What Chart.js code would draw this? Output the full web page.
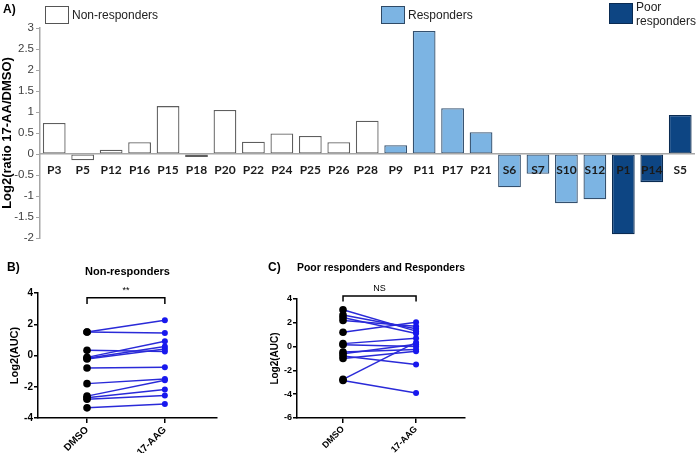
<!DOCTYPE html>
<html>
<head>
<meta charset="utf-8">
<script src="https://cdn.jsdelivr.net/npm/chart.js@4.4.0/dist/chart.umd.min.js"></script>
<style>
  body { margin: 0; background: #fff; width: 696px; height: 453px; position: relative; overflow: hidden;
         font-family: "Liberation Sans", Arial, sans-serif; }
  canvas { position: absolute; }
  .txt { position: absolute; white-space: nowrap; color: #222; font-size: 12px; line-height: 14px; }
  .panel { font-weight: bold; color: #000; }
  .swatch { position: absolute; box-sizing: border-box; }
</style>
</head>
<body>
<canvas id="chartA" width="696" height="248" style="left:0;top:0"></canvas>
<canvas id="chartB" width="240" height="198" style="left:0;top:255px"></canvas>
<canvas id="chartC" width="218" height="198" style="left:262px;top:255px"></canvas>

<div class="txt panel" style="left:3px;top:2px">A)</div>
<div class="swatch" style="left:45px;top:6px;width:24px;height:18px;background:#fff;border:1px solid #555"></div>
<div class="txt" style="left:72px;top:8px">Non-responders</div>
<div class="swatch" style="left:381px;top:6px;width:24px;height:18px;background:#7cb4e3;border:1px solid #2f4a66"></div>
<div class="txt" style="left:408px;top:8px">Responders</div>
<div class="swatch" style="left:609px;top:3px;width:24px;height:21px;background:#0d4583;border:1px solid #0a2b52"></div>
<div class="txt" style="left:636px;top:0px">Poor<br>responders</div>
<div class="txt panel" style="left:7px;top:260px">B)</div>
<div class="txt panel" style="left:268px;top:260px">C)</div>

<script>
// Panel A: log2 ratio per patient, split by response group
const nonResponderLabels = ["P3", "P5", "P12", "P16", "P15", "P18", "P20", "P22", "P24", "P25", "P26", "P28"]
const nonResponderValues = [0.74, -0.15, 0.1, 0.28, 1.14, -0.07, 1.05, 0.29, 0.49, 0.43, 0.28, 0.79]
const responderLabels = ["P9", "P11", "P17", "P21", "S6", "S7", "S10", "S12"]
const responderValues = [0.21, 2.93, 1.09, 0.52, -0.79, -0.47, -1.17, -1.08]
const poorLabels = ["P1", "P14", "S5"]
const poorValues = [-1.91, -0.67, 0.93]

// Panels B and C: paired log2(AUC), DMSO vs 17-AAG
const treatments = ["DMSO", "17-AAG"]
const nonRespDmso = [1.5, 1.5, 0.33, -0.12, -0.17, -0.22, -0.8, -1.8, -2.6, -2.7, -2.8, -3.35]
const nonRespAag = [2.26, 1.44, 0.25, 0.91, 0.57, 0.42, -0.75, -1.51, -1.58, -2.18, -2.56, -3.11]
const respDmso = [3.1, 2.65, 2.45, 2.2, 1.2, 0.25, 0.15, -0.45, -0.6, -0.8, -1.0, -2.75, -2.85]
const respAag = [1.3, 1.5, 1.1, 1.7, 2.05, 0.7, 0.0, -0.25, 0.2, -1.5, -0.4, 0.35, -3.9]

// significance brackets (top level, foot level)
const bracketB = [3.7, 3.3]
const bracketC = [4.25, 3.8]

const GROUP_STYLE = {
  non: { fill: "#ffffff", border: "#5e5e5e" },
  resp: { fill: "#7cb4e3", border: "#34506e" },
  poor: { fill: "#0d4583", border: "#0a2b52" },
}
const LINE_BLUE = "#2a2ad8"
const POINT_BLUE = "#1818ee"

const bar = (arr, style, key) => arr.map(() => style[key])
const barLabels = [...nonResponderLabels, ...responderLabels, ...poorLabels]
const barValues = [...nonResponderValues, ...responderValues, ...poorValues]
const barFills = [
  ...bar(nonResponderLabels, GROUP_STYLE.non, "fill"),
  ...bar(responderLabels, GROUP_STYLE.resp, "fill"),
  ...bar(poorLabels, GROUP_STYLE.poor, "fill"),
]
const barBorders = [
  ...bar(nonResponderLabels, GROUP_STYLE.non, "border"),
  ...bar(responderLabels, GROUP_STYLE.resp, "border"),
  ...bar(poorLabels, GROUP_STYLE.poor, "border"),
]

new Chart(document.getElementById("chartA"), {
  type: "bar",
  data: {
    labels: barLabels,
    datasets: [{
      data: barValues,
      backgroundColor: barFills,
      borderColor: barBorders,
      borderWidth: 1.3,
      borderSkipped: false,
      categoryPercentage: 1,
      barPercentage: 0.8,
    }],
  },
  options: {
    responsive: false,
    animation: false,
    layout: { padding: { top: 28, bottom: 10, left: 0, right: 0 } },
    plugins: { legend: { display: false }, tooltip: { enabled: false } },
    scales: {
      x: {
        position: { y: 0 },
        grid: { display: false, drawTicks: false },
        border: { color: "#a6a6a6", width: 1.5, z: 1 },
        ticks: {
          z: 1, padding: 9, autoSkip: false, maxRotation: 0,
          color: "#1a1a1a", font: { family: "Lato", weight: "bold", size: 12 },
        },
        afterFit: (s) => { s.height = 0 },
      },
      y: {
        min: -2,
        max: 3,
        ticks: {
          stepSize: 0.5, padding: 2, color: "#404040",
          font: { family: "Liberation Sans", size: 11.5 },
          callback: (v) => String(v),
        },
        grid: { drawOnChartArea: false, tickLength: 4, color: "#a6a6a6" },
        border: { color: "#a6a6a6", width: 1.5 },
        title: {
          display: true, text: "Log2(ratio 17-AA/DMSO)", color: "#000",
          font: { family: "Liberation Sans", weight: "bold", size: 13 }, padding: { top: 0, bottom: 0 },
        },
        afterFit: (s) => { s.width = 40 },
      },
    },
  },
})

// draws the "**" / "NS" text above a bracket
const sigLabel = {
  id: "sigLabel",
  afterDatasetsDraw(chart, args, opts) {
    const { ctx, scales: { x, y } } = chart
    ctx.save()
    ctx.font = opts.font
    ctx.fillStyle = "#000"
    ctx.textAlign = "center"
    ctx.textBaseline = "bottom"
    ctx.fillText(opts.text, (x.getPixelForValue(0) + x.getPixelForValue(1)) / 2, y.getPixelForValue(opts.level) - 3)
    ctx.restore()
  },
}

function pairedChart(id, dmso, aag, bracket, sigText, cfg) {
  const pairs = dmso.map((d, i) => ({
    data: [{ x: 0, y: d }, { x: 1, y: aag[i] }],
    showLine: true,
    borderColor: LINE_BLUE,
    borderWidth: 1.5,
    pointRadius: [3.8, 3],
    pointBackgroundColor: ["#000", POINT_BLUE],
    pointBorderColor: ["#000", POINT_BLUE],
    pointBorderWidth: 0,
  }))
  const [top, foot] = bracket
  pairs.push({
    data: [{ x: 0, y: foot }, { x: 0, y: top }, { x: 1, y: top }, { x: 1, y: foot }],
    showLine: true,
    borderColor: "#000",
    borderWidth: 1.5,
    pointRadius: 0,
    clip: false,
  })

  return new Chart(document.getElementById(id), {
    type: "scatter",
    data: { datasets: pairs },
    plugins: [sigLabel],
    options: {
      responsive: false,
      animation: false,
      layout: { padding: { top: 0, left: 0, bottom: 0, right: cfg.padRight } },
      plugins: {
        legend: { display: false },
        tooltip: { enabled: false },
        title: {
          display: true, text: cfg.title, fullSize: false, color: "#000",
          font: { family: "Liberation Sans", weight: "bold", size: 11 },
          padding: { top: cfg.titleTop, bottom: cfg.titleBottom },
        },
        sigLabel: { text: sigText, level: top, font: "9px 'Liberation Sans'" },
      },
      scales: {
        x: {
          type: "linear",
          min: -0.63,
          max: 1.67,
          afterBuildTicks: (s) => { s.ticks = treatments.map((_, i) => ({ value: i })) },
          ticks: {
            callback: (v) => treatments[v],
            minRotation: 45, maxRotation: 45, padding: 1, color: "#000",
            font: { family: "Liberation Sans", weight: "bold", size: cfg.tickSize },
          },
          grid: { drawOnChartArea: false, tickLength: 5, color: "#000", lineWidth: 1.5 },
          border: { color: "#000", width: 1.5 },
          afterFit: (s) => { s.height = 35 },
        },
        y: {
          min: cfg.yMin,
          max: cfg.yMax,
          ticks: {
            stepSize: 2, padding: 1, color: "#000",
            font: { family: "Liberation Sans", weight: "bold", size: cfg.tickSize },
          },
          grid: { drawOnChartArea: false, tickLength: 4, color: "#000", lineWidth: 1.5 },
          border: { color: "#000", width: 1.5 },
          title: {
            display: true, text: "Log2(AUC)", color: "#000",
            font: { family: "Liberation Sans", weight: "bold", size: cfg.yTitleSize },
            padding: { top: cfg.yTitlePad, bottom: 0 },
          },
          afterFit: (s) => { s.width = cfg.axisWidth },
        },
      },
    },
  })
}

pairedChart("chartB", nonRespDmso, nonRespAag, bracketB, "**", {
  title: "Non-responders", titleTop: 10, titleBottom: 14.8, padRight: 23,
  yMin: -4, yMax: 4, axisWidth: 38, tickSize: 10, yTitleSize: 11, yTitlePad: 8,
})
pairedChart("chartC", respDmso, respAag, bracketC, "NS", {
  title: "Poor responders and Responders", titleTop: 6, titleBottom: 24.8, padRight: 15,
  yMin: -6, yMax: 4, axisWidth: 35, tickSize: 9, yTitleSize: 10, yTitlePad: 7,
})
</script>
</body>
</html>
